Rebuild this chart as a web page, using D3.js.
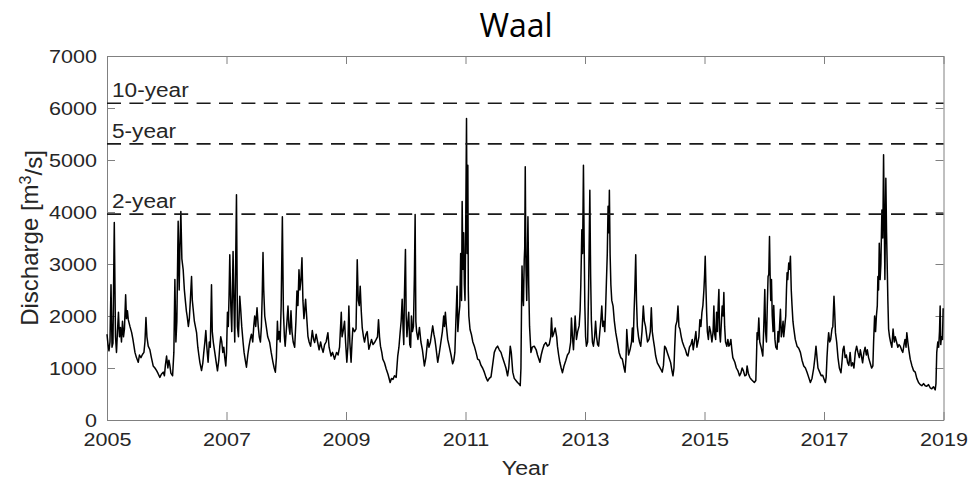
<!DOCTYPE html>
<html>
<head>
<meta charset="utf-8">
<script src="https://cdn.jsdelivr.net/npm/d3@7/dist/d3.min.js"></script>
<style>
  body { margin: 0; background: #fff; }
  svg { display: block; }
</style>
</head>
<body>
<svg id="chart" width="968" height="487"></svg>
<script>
// ---- data -------------------------------------------------------------
const chartTitle = "Waal";
const xLabel = "Year";
const yTicks = [0, 1000, 2000, 3000, 4000, 5000, 6000, 7000];
const yearTicks = [2005, 2007, 2009, 2011, 2013, 2015, 2017, 2019];
const returnPeriods = ["10-year", "5-year", "2-year"];
const returnFlows = [6090, 5310, 3960];   // m3/s

// Discharge per year: [fraction of year, discharge m3/s]
const q2005 = [[0,1650],[.017,1450],[.033,1330],[.050,1500],[.067,2600],[.084,1400],[.100,1480],[.122,3800],[.142,1600],[.159,1300],[.175,1700],[.192,2070],[.209,1600],[.226,1780],[.242,1500],[.259,1900],[.276,1600],[.292,1750],[.312,2410],[.326,1950],[.342,2100],[.356,1930],[.384,1800],[.413,1680],[.434,1550],[.468,1300],[.493,1200],[.523,1110],[.543,1250],[.568,1200],[.593,1260],[.618,1300],[.635,1500],[.652,1970],[.668,1600],[.690,1420],[.718,1350],[.743,1200],[.773,1040],[.802,1000],[.830,950],[.852,900],[.885,820],[.910,880],[.941,920],[.961,850],[.977,1050],[.997,1230]];
const q2006 = [[.019,1000],[.036,1150],[.052,1050],[.069,900],[.098,850],[.119,1300],[.136,2700],[.153,1500],[.169,1900],[.191,3820],[.208,2500],[.220,3300],[.236,4010],[.253,3100],[.275,2890],[.295,2500],[.311,2300],[.328,2100],[.341,2000],[.362,1800],[.378,1950],[.395,2300],[.415,2760],[.428,2300],[.445,2100],[.462,1900],[.499,1680],[.520,1400],[.537,1250],[.554,1110],[.582,950],[.604,1100],[.620,1300],[.637,1490],[.654,1720],[.671,1400],[.692,1110],[.712,1500],[.729,1400],[.749,2600],[.762,1700],[.779,1500],[.804,1300],[.829,1100],[.849,945],[.871,1150],[.888,1420],[.904,1600],[.921,1500],[.938,1300],[.955,1400],[.971,1200],[.988,1040]];
const q2007 = [[.001,1300],[.016,2070],[.030,1800],[.043,2400],[.055,3180],[.072,2200],[.088,1700],[.110,3240],[.122,2400],[.138,1500],[.167,4330],[.183,1800],[.200,1600],[.222,2380],[.239,2100],[.255,1800],[.277,1500],[.294,1300],[.314,1150],[.334,1015],[.356,1250],[.377,1420],[.397,1550],[.417,1650],[.439,1500],[.456,1800],[.472,2000],[.489,1800],[.511,2160],[.531,1800],[.548,1600],[.568,1500],[.584,1800],[.598,2400],[.611,3220],[.623,2500],[.640,2000],[.665,1800],[.690,1600],[.723,1490],[.748,1300],[.778,1110],[.798,1000],[.818,920],[.835,1200],[.852,1900],[.865,1550],[.882,1700],[.898,1500],[.915,2200],[.935,3910],[.952,2100],[.969,1600],[.982,1420],[.999,1700]];
const q2008 = [[.012,1900],[.029,2190],[.045,1800],[.062,1650],[.079,2100],[.096,1700],[.116,1500],[.141,1400],[.162,1900],[.179,2480],[.196,2200],[.213,2890],[.229,2500],[.246,2700],[.263,3120],[.279,2300],[.296,1950],[.308,2100],[.324,2320],[.341,2000],[.363,1610],[.383,1500],[.408,1420],[.425,1600],[.436,1720],[.458,1550],[.475,1490],[.500,1650],[.525,1500],[.550,1350],[.575,1500],[.592,1400],[.617,1300],[.642,1450],[.667,1500],[.697,1680],[.717,1400],[.750,1230],[.775,1300],[.809,1170],[.842,1300],[.867,1250],[.892,1400],[.921,2070],[.934,1600],[.951,1700],[.976,1900],[.993,1500]];
const q2009 = [[.014,1110],[.031,1400],[.048,2190],[.064,1500],[.085,1110],[.101,1500],[.115,1770],[.143,1700],[.168,1750],[.188,3080],[.205,2300],[.222,2200],[.238,2570],[.255,2100],[.272,1770],[.293,1600],[.310,1500],[.335,1650],[.355,1700],[.382,1360],[.405,1450],[.427,1550],[.452,1450],[.477,1490],[.506,1550],[.527,1600],[.544,1930],[.561,1600],[.577,1420],[.599,1300],[.616,1170],[.644,1100],[.673,980],[.703,880],[.739,720],[.761,800],[.786,780],[.811,850],[.840,820],[.866,1230],[.886,1400],[.906,1680],[.923,1900],[.940,2320],[.957,1700],[.967,1450],[.978,2400],[.995,3280]];
const q2010 = [[.007,2000],[.020,1600],[.037,1900],[.050,2070],[.067,1450],[.082,1400],[.095,2000],[.112,1700],[.129,1800],[.145,2800],[.157,3950],[.169,1900],[.182,1700],[.204,1550],[.229,1780],[.254,1500],[.279,1350],[.312,1040],[.337,1200],[.368,1550],[.388,1400],[.413,1500],[.451,1810],[.471,1650],[.488,1550],[.505,1400],[.535,1110],[.563,1300],[.588,1500],[.613,1700],[.635,2000],[.647,1800],[.663,2070],[.680,1800],[.702,1550],[.730,1400],[.758,1250],[.785,1080],[.805,1150],[.822,1300],[.839,1900],[.859,2570],[.872,1700],[.889,2000],[.905,2200],[.919,3200],[.934,2300],[.944,4200],[.956,2900],[.969,3600],[.981,2600],[.992,2300]];
const q2011 = [[.002,3500],[.017,5800],[.027,3200],[.039,4900],[.047,2500],[.056,2000],[.076,1740],[.098,1650],[.123,1500],[.148,1420],[.176,1300],[.203,1170],[.231,1150],[.260,1050],[.286,1000],[.315,920],[.343,820],[.370,750],[.398,800],[.427,830],[.453,1050],[.482,1300],[.510,1380],[.537,1420],[.565,1350],[.594,1300],[.620,1200],[.649,1100],[.677,1000],[.704,850],[.724,1000],[.749,1420],[.766,1300],[.791,920],[.816,800],[.844,760],[.871,720],[.899,690],[.916,660],[.928,1000],[.938,2200],[.946,2960],[.958,2400],[.970,2200],[.983,3080],[.991,3300]];
const q2012 = [[0,4870],[.011,3000],[.025,2300],[.045,3910],[.058,2600],[.072,1800],[.095,1300],[.117,1400],[.150,1420],[.183,1350],[.205,1250],[.245,1110],[.267,1250],[.289,1350],[.317,1450],[.345,1490],[.372,1420],[.401,1450],[.426,1600],[.439,1960],[.456,1600],[.472,1650],[.501,1770],[.526,1600],[.539,1420],[.559,1250],[.579,1110],[.601,1000],[.623,910],[.651,1050],[.680,1150],[.706,1250],[.735,1300],[.760,1500],[.773,1960],[.790,1600],[.807,1350],[.835,2000],[.857,1550],[.877,1700],[.902,1810],[.918,2100],[.930,2600],[.947,3660],[.960,3200],[.974,4900],[.985,3500],[.997,2200]];
const q2013 = [[.010,1600],[.024,1420],[.044,1500],[.060,2500],[.081,4420],[.094,2800],[.107,1900],[.124,1500],[.141,1420],[.161,1600],[.177,1900],[.194,1600],[.211,1450],[.228,1420],[.248,1700],[.264,1900],[.281,2190],[.298,1800],[.314,1900],[.331,1700],[.344,2100],[.358,2640],[.373,3200],[.386,4110],[.398,3600],[.408,4420],[.420,3200],[.433,2600],[.448,2300],[.470,2190],[.491,1900],[.515,1680],[.542,1500],[.570,1300],[.598,1200],[.625,1170],[.654,1000],[.670,920],[.687,1200],[.699,1740],[.712,1500],[.729,1250],[.754,1350],[.779,1500],[.792,1770],[.807,1500],[.821,2070],[.834,2500],[.849,3180],[.862,2300],[.876,1800],[.896,1600],[.912,1500],[.933,1420],[.954,1700],[.976,2190],[.993,1900]];
const q2014 = [[.013,1800],[.029,1650],[.046,1500],[.071,1550],[.093,1700],[.110,2160],[.126,1700],[.143,1550],[.163,1400],[.183,1230],[.210,1100],[.238,1040],[.267,980],[.293,920],[.313,1050],[.333,1420],[.355,1380],[.377,1300],[.405,1200],[.434,1100],[.455,950],[.472,850],[.489,1000],[.501,1400],[.517,1810],[.539,1900],[.556,2190],[.572,1800],[.589,1750],[.611,1600],[.631,1500],[.656,1420],[.681,1350],[.706,1250],[.723,1230],[.748,1400],[.773,1450],[.795,1550],[.811,1350],[.831,1500],[.856,1700],[.873,1400],[.890,1500],[.906,1600],[.923,1930],[.940,1800],[.957,2070],[.973,2200],[.990,2500]];
const q2015 = [[.002,2800],[.012,3150],[.023,2600],[.035,2100],[.048,1700],[.065,1550],[.082,1800],[.102,1700],[.124,1500],[.144,1700],[.157,2190],[.170,1650],[.187,1550],[.202,2070],[.216,1700],[.229,2200],[.241,2510],[.252,1700],[.266,1500],[.279,1800],[.296,2190],[.311,2000],[.324,2450],[.337,1800],[.352,1500],[.374,1420],[.391,1550],[.408,1420],[.424,1450],[.441,1550],[.458,1350],[.474,1200],[.508,1110],[.533,1000],[.558,950],[.586,850],[.608,900],[.630,1000],[.650,950],[.675,850],[.700,870],[.713,1040],[.733,900],[.758,820],[.784,780],[.809,750],[.834,720],[.859,760],[.872,1300],[.880,1680],[.892,1550],[.909,1960],[.925,1500],[.947,1400],[.976,1230],[.992,1800]];
const q2016 = [[.009,2510],[.022,1700],[.037,1500],[.051,2200],[.064,2760],[.076,2800],[.088,3530],[.098,2800],[.109,2300],[.121,2700],[.134,2000],[.148,1700],[.159,2200],[.179,1550],[.193,1400],[.215,1360],[.230,1700],[.243,1500],[.256,1800],[.271,2130],[.285,1600],[.298,1700],[.315,1900],[.326,1600],[.343,1800],[.360,2000],[.372,2500],[.382,2830],[.393,2700],[.410,3020],[.423,2900],[.438,3150],[.452,2500],[.465,2200],[.480,1900],[.493,1770],[.519,1550],[.549,1420],[.577,1380],[.605,1300],[.632,1150],[.661,1040],[.689,1000],[.716,920],[.744,820],[.772,720],[.799,800],[.828,1000],[.848,1200],[.866,1420],[.883,1200],[.899,1000],[.928,920],[.953,850],[.978,860]];
const q2017 = [[.003,780],[.023,720],[.036,820],[.050,1200],[.065,1500],[.078,1680],[.095,1500],[.112,1550],[.133,1750],[.148,1800],[.167,2380],[.178,2100],[.192,1680],[.212,1500],[.234,1200],[.257,1000],[.284,910],[.300,1100],[.317,1350],[.334,1420],[.354,1200],[.374,1250],[.396,1100],[.416,1050],[.437,1300],[.457,1040],[.479,1100],[.501,1000],[.524,1300],[.546,1420],[.568,1300],[.591,1200],[.608,1350],[.624,1250],[.646,1100],[.668,1300],[.688,1400],[.708,1250],[.725,1350],[.746,1200],[.771,1100],[.797,1000],[.818,1040],[.830,1500],[.847,2000],[.863,1700],[.877,2000],[.892,2200],[.902,2760],[.913,2500],[.925,3400],[.939,2700],[.952,3000],[.969,4040],[.984,3500],[.997,5100]];
const q2018 = [[.009,3800],[.019,2700],[.035,4650],[.047,3600],[.059,2900],[.069,2300],[.081,1750],[.097,1600],[.114,1500],[.136,1400],[.156,1750],[.176,1500],[.192,1600],[.214,1500],[.236,1400],[.256,1450],[.276,1420],[.298,1350],[.319,1300],[.339,1450],[.356,1550],[.373,1400],[.386,1680],[.403,1500],[.420,1350],[.443,1170],[.470,1050],[.498,950],[.527,920],[.553,800],[.582,720],[.610,680],[.637,660],[.665,700],[.694,660],[.720,650],[.749,680],[.777,620],[.804,600],[.832,640],[.861,580],[.874,700],[.887,1300],[.904,1500],[.919,1400],[.933,1700],[.944,2190],[.954,1450],[.966,1600],[.983,1550],[.994,2150]];

const yearlyFlow = [
  [2005, q2005], [2006, q2006], [2007, q2007], [2008, q2008], [2009, q2009],
  [2010, q2010], [2011, q2011], [2012, q2012], [2013, q2013], [2014, q2014],
  [2015, q2015], [2016, q2016], [2017, q2017], [2018, q2018]
];
const discharge = yearlyFlow.flatMap(([yr, pts]) => pts.map(([f, q]) => ({ t: yr + f, q })));

// ---- layout -----------------------------------------------------------
const W = 968, H = 487;
const M = { top: 56, right: 24.5, bottom: 67, left: 107 };
const SX = 1.16;                         // horizontal stretch of the labels
const axisColor = "#808080";
const textColor = "#262626";
const sans = "'Liberation Sans', Arial, Helvetica, sans-serif";

const svg = d3.select("#chart");

const x = d3.scaleLinear().domain([2005, 2019]).range([M.left, W - M.right]);
const y = d3.scaleLinear().domain([0, 7000]).range([H - M.bottom, M.top]);

// ---- axes (ticks pointing inward on all four sides) -------------------
const tickLen = 8;

const bottomAxis = svg.append("g")
  .attr("transform", `translate(0,${y(0)})`)
  .call(d3.axisBottom(x).tickValues(yearTicks).tickFormat(d3.format("d"))
    .tickSizeInner(-tickLen).tickSizeOuter(0).tickPadding(0));
bottomAxis.selectAll("text")
  .attr("y", null).attr("dy", null)
  .attr("transform", `translate(0,26) scale(${SX},1)`);

const leftAxis = svg.append("g")
  .attr("transform", `translate(${x(2005)},0)`)
  .call(d3.axisLeft(y).tickValues(yTicks).tickFormat(d3.format("d"))
    .tickSizeInner(-tickLen).tickSizeOuter(0).tickPadding(0));
leftAxis.selectAll("text")
  .attr("x", null).attr("dy", "0.35em")
  .attr("transform", `translate(-10,0) scale(${SX},1)`);

svg.append("g")
  .attr("transform", `translate(0,${y(7000)})`)
  .call(d3.axisTop(x).tickValues(yearTicks).tickFormat("")
    .tickSizeInner(-tickLen).tickSizeOuter(0));

svg.append("g")
  .attr("transform", `translate(${x(2019)},0)`)
  .call(d3.axisRight(y).tickValues(yTicks).tickFormat("")
    .tickSizeInner(-tickLen).tickSizeOuter(0));

svg.selectAll(".domain, .tick line").attr("stroke", axisColor).attr("stroke-width", 1);
svg.selectAll(".tick text")
  .attr("fill", textColor)
  .style("font-family", sans)
  .style("font-size", "18.6px");

// ---- discharge series --------------------------------------------------
const line = d3.line().x(d => x(d.t)).y(d => y(d.q));
svg.append("path")
  .datum(discharge)
  .attr("d", line)
  .attr("fill", "none")
  .attr("stroke", "#000")
  .attr("stroke-width", 1.5)
  .attr("stroke-linejoin", "round");

// ---- return-period levels ---------------------------------------------
const levels = svg.append("g");
returnFlows.forEach((q, i) => {
  levels.append("line")
    .attr("x1", x(2005)).attr("x2", x(2019))
    .attr("y1", y(q)).attr("y2", y(q))
    .attr("stroke", "#1a1a1a")
    .attr("stroke-width", 1.6)
    .attr("stroke-dasharray", "14 8.4");
  levels.append("text")
    .attr("transform", `translate(${x(2005) + 5},${y(q) - 6}) scale(${SX},1)`)
    .attr("fill", textColor)
    .style("font-family", sans)
    .style("font-size", "19.5px")
    .text(returnPeriods[i]);
});

// ---- titles -----------------------------------------------------------
svg.append("text")
  .attr("x", 516).attr("y", 37)
  .attr("text-anchor", "middle")
  .attr("fill", "#000")
  .style("font-family", "'Open Sans', 'Noto Sans', sans-serif")
  .style("font-size", "32px")
  .text(chartTitle);

svg.append("text")
  .attr("transform", `translate(${(x(2005) + x(2019)) / 2},475) scale(${SX},1)`)
  .attr("text-anchor", "middle")
  .attr("fill", textColor)
  .style("font-family", sans)
  .style("font-size", "20px")
  .text(xLabel);

const yl = svg.append("text")
  .attr("transform", `translate(38,238) rotate(-90)`)
  .attr("text-anchor", "middle")
  .attr("fill", textColor)
  .style("font-family", sans)
  .style("font-size", "24px");
yl.append("tspan").text("Discharge [m");
yl.append("tspan").attr("dy", "-0.45em").style("font-size", "16px").text("3");
yl.append("tspan").attr("dy", "0.45em").text("/s]");
</script>
</body>
</html>
